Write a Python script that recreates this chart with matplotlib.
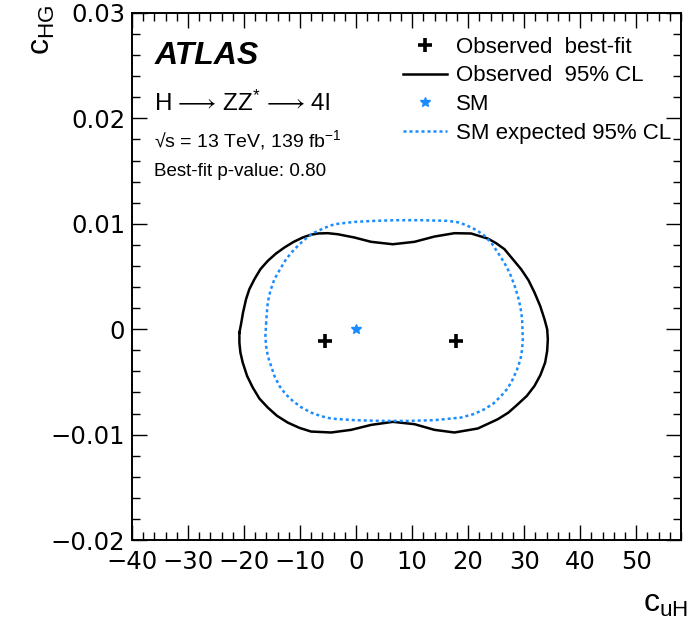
import matplotlib
matplotlib.use("Agg")
import matplotlib.pyplot as plt
from matplotlib.lines import Line2D
from matplotlib.ticker import MultipleLocator

plt.rcParams['font.family'] = ['Liberation Sans', 'DejaVu Sans']
plt.rcParams['mathtext.fontset'] = 'custom'
plt.rcParams['mathtext.rm'] = 'Liberation Sans'
plt.rcParams['mathtext.it'] = 'Liberation Sans:italic'
plt.rcParams['mathtext.default'] = 'regular'

# Observed 95% CL contour in (c_uH, c_HG)
obs_cuh = [-20.83, -20.54, -20.18, -19.64, -19.05, -18.15, -17.08, -15.77, -14.29, -12.80,
           -11.13, -9.52, -8.15, -6.85, -5.06, -3.27, -0.30, 2.68, 6.55, 10.42,
           13.99, 17.56, 20.54, 23.51, 25.00, 26.49, 27.98, 29.46, 30.77, 31.85,
           32.86, 33.63, 34.11, 34.23, 34.11, 33.75, 32.92, 31.85, 30.48, 28.87,
           27.20, 25.30, 21.73, 17.56, 13.99, 10.42, 6.55, 2.68, -0.89, -4.46,
           -8.04, -10.12, -12.20, -14.11, -15.77, -17.26, -18.45, -19.46, -20.24, -20.65,
           -20.83]
obs_chg = [-0.00032, 0.00047, 0.00158, 0.00285, 0.00380, 0.00474, 0.00569, 0.00648, 0.00718, 0.00775,
           0.00829, 0.00870, 0.00895, 0.00908, 0.00911, 0.00901, 0.00870, 0.00829, 0.00806, 0.00829,
           0.00879, 0.00911, 0.00908, 0.00860, 0.00816, 0.00759, 0.00664, 0.00569, 0.00465, 0.00348,
           0.00221, 0.00095, 0.00000, -0.00095, -0.00206, -0.00316, -0.00433, -0.00538, -0.00633, -0.00712,
           -0.00791, -0.00854, -0.00942, -0.00980, -0.00955, -0.00901, -0.00879, -0.00908, -0.00955, -0.00980,
           -0.00971, -0.00936, -0.00886, -0.00822, -0.00743, -0.00658, -0.00553, -0.00443, -0.00316, -0.00221,
           -0.00127]

# SM expected 95% CL contour
exp_cuh = [-16.07, -15.95, -15.77, -15.30, -14.58, -13.57, -12.50, -11.37, -10.12, -8.81,
           -7.44, -5.65, -3.87, -0.30, 3.27, 6.85, 11.61, 16.37, 18.45, 19.94,
           21.55, 22.92, 24.23, 25.30, 26.43, 27.38, 28.21, 28.87, 29.35, 29.64,
           29.76, 29.64, 29.35, 28.75, 27.98, 27.08, 25.89, 24.58, 22.92, 20.95,
           18.75, 13.99, 9.23, 4.46, -0.30, -4.46, -6.25, -8.04, -9.82, -11.31,
           -12.62, -13.69, -14.58, -15.18, -15.77, -16.07, -16.19]
exp_chg = [0.00047, 0.00142, 0.00253, 0.00364, 0.00474, 0.00569, 0.00664, 0.00737, 0.00806, 0.00867,
           0.00917, 0.00961, 0.00996, 0.01018, 0.01028, 0.01034, 0.01034, 0.01028, 0.01012, 0.00980,
           0.00939, 0.00886, 0.00813, 0.00727, 0.00633, 0.00538, 0.00427, 0.00316, 0.00206, 0.00095,
           -0.00095, -0.00190, -0.00285, -0.00380, -0.00474, -0.00560, -0.00633, -0.00702, -0.00759, -0.00806,
           -0.00838, -0.00863, -0.00870, -0.00870, -0.00863, -0.00848, -0.00825, -0.00791, -0.00740, -0.00680,
           -0.00614, -0.00538, -0.00443, -0.00348, -0.00253, -0.00158, -0.00063]

# Observed best-fit points and SM point
bestfit_cuh = [-5.5, 17.9]
bestfit_chg = [-0.0011, -0.0011]
sm_cuh = [0.0]
sm_chg = [0.0]

xticks = [-40, -30, -20, -10, 0, 10, 20, 30, 40, 50]
xticklabels = ['\u221240', '\u221230', '\u221220', '\u221210', '0', '10', '20', '30', '40', '50']
yticks = [-0.02, -0.01, 0.0, 0.01, 0.02, 0.03]
yticklabels = ['\u22120.02', '\u22120.01', '0', '0.01', '0.02', '0.03']

BLUE = '#1a8cff'

fig = plt.figure(figsize=(6.89, 6.3), dpi=100)
ax = fig.add_axes([132 / 689, 1 - 540 / 630, (681 - 132) / 689, (540 - 13) / 630])

ax.plot(obs_cuh + obs_cuh[:1], obs_chg + obs_chg[:1], color='black', lw=1.8)
ax.plot(exp_cuh + exp_cuh[:1], exp_chg + exp_chg[:1], color=BLUE, lw=1.8,
        linestyle=(0, (1.2, 1.2)))
ax.plot(bestfit_cuh, bestfit_chg, linestyle='none', marker='+', color='black',
        markersize=10, markeredgewidth=2.6)
ax.plot(sm_cuh, sm_chg, linestyle='none', marker='*', color=BLUE, markersize=7)

ax.set_xlim(-40, 58)
ax.set_ylim(-0.02, 0.03)
ax.set_xticks(xticks)
ax.set_xticklabels(xticklabels, family='DejaVu Sans')
ax.set_yticks(yticks)
ax.set_yticklabels(yticklabels, family='DejaVu Sans')
ax.xaxis.set_minor_locator(MultipleLocator(2))
ax.yaxis.set_minor_locator(MultipleLocator(0.002))
ax.tick_params(which='both', direction='in', top=True, right=True, width=1.0)
ax.tick_params(which='major', length=11, labelsize=17.5)
ax.tick_params(which='minor', length=5.5)
ax.tick_params(axis='x', which='major', pad=7)
ax.tick_params(axis='y', which='major', pad=5)
for s in ax.spines.values():
    s.set_linewidth(1.4)

fig.text(688 / 689, 1 - 612 / 630, '$c_{uH}$', ha='right', va='baseline', fontsize=23)
fig.text(42 / 689, 1 - 5 / 630, '$c_{HG}$', ha='center', va='top', fontsize=23, rotation=90)

ax.text(0.042, 0.903, 'ATLAS', transform=ax.transAxes, fontsize=23,
        fontweight='bold', fontstyle='italic', va='baseline')
ax.text(0.040, 0.814, r'H$\,\longrightarrow\,$ZZ$^{*}$$\,\longrightarrow\,$4l',
        transform=ax.transAxes, fontsize=17.5, va='baseline', math_fontfamily='stix')
ax.text(0.040, 0.746, '\u221as = 13 TeV, 139 fb$^{-1}$', transform=ax.transAxes,
        fontsize=14, va='baseline')
ax.text(0.040, 0.691, 'Best-fit p-value: 0.80', transform=ax.transAxes,
        fontsize=13.5, va='baseline')

handles = [
    Line2D([], [], linestyle='none', marker='+', color='black', markersize=10, markeredgewidth=2.6),
    Line2D([], [], color='black', lw=1.8),
    Line2D([], [], linestyle='none', marker='*', color=BLUE, markersize=7),
    Line2D([], [], color=BLUE, lw=1.8, linestyle=(0, (1.2, 1.2))),
]
labels = ['Observed  best-fit', 'Observed  95% CL', 'SM', 'SM expected 95% CL']
ax.legend(handles, labels, loc='upper left', bbox_to_anchor=(0.4936, 0.955),
          frameon=False, fontsize=16, handlelength=2.0, handletextpad=0.4,
          labelspacing=0.35, borderaxespad=0, borderpad=0)

fig.savefig('out.png', dpi=100)
